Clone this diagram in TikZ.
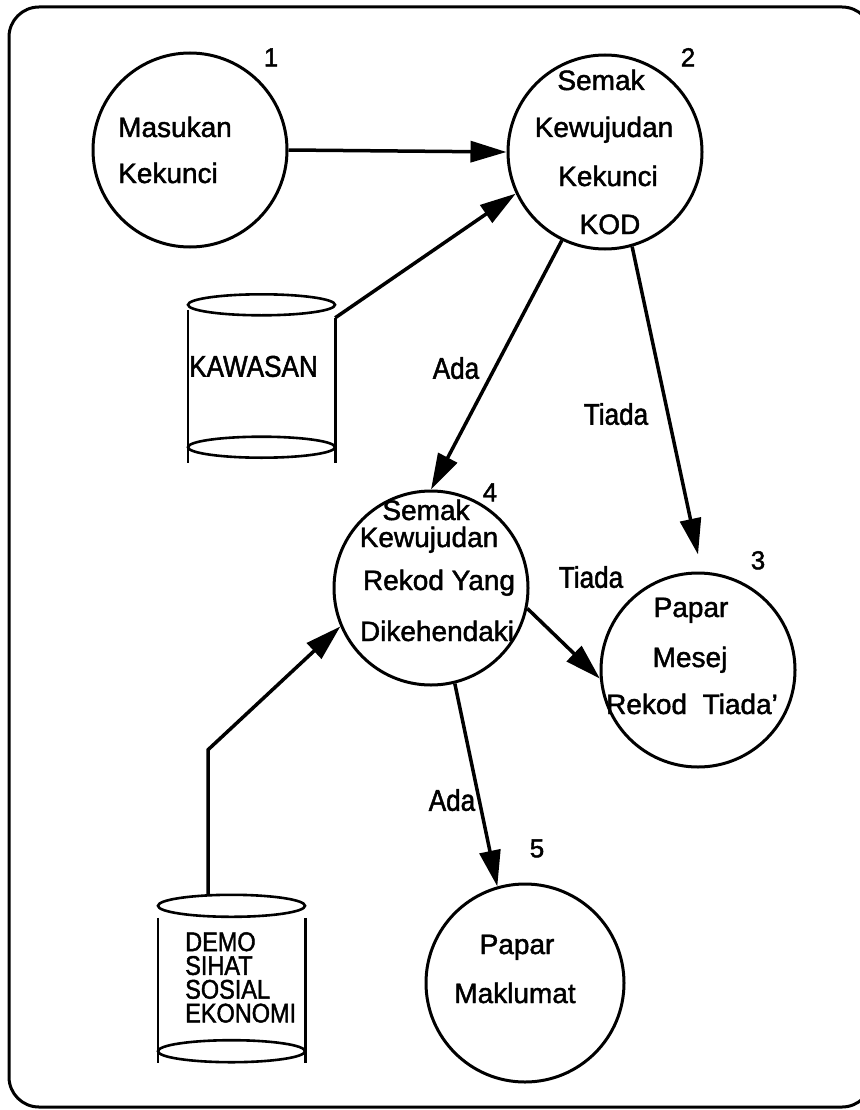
\documentclass[tikz,border=0pt]{standalone}
\usepackage{fontspec}
\setmainfont[FakeBold=1.6]{Liberation Sans}
\newfontfamily\narrowsans[FakeStretch=0.87,FakeBold=1.6]{Liberation Sans}
\usetikzlibrary{arrows.meta}
\begin{document}
\begin{tikzpicture}[x=1pt,y=-1pt,
  proc/.style={circle, draw, line width=3pt, minimum size=194pt, inner sep=0pt},
  flow/.style={line width=3.5pt, -{Triangle[length=36pt,width=21pt]}},
  txt/.style={font=\fontsize{28}{31}\selectfont, inner sep=0pt, text height=20pt, text depth=0pt},
  num/.style={font=\fontsize{26}{28}\selectfont, inner sep=0pt, text height=18.6pt, text depth=0pt},
  flowlbl/.style={font=\narrowsans\fontsize{30}{32}\selectfont, inner sep=0pt, text height=21.5pt, text depth=0pt},
  storebody/.style={inner sep=0pt, minimum width=147pt},
  storeline/.style={line width=2.6pt},
]
\useasboundingbox (0,0) rectangle (859,1110);

% outer frame
\draw[line width=3pt, rounded corners=30pt] (9,7) rectangle (872,1107);

% processes
\node[proc] (p1) at (190,150) {};
\node[proc] (p2) at (605,152) {};
\node[proc] (p4) at (431,588) {};
\node[proc] (p3) at (698,670) {};
\node[proc, minimum size=198pt] (p5) at (525,983) {};

% process numbers
\node[num] (n1) at (271,57) {1};
\node[num] (n2) at (688,57) {2};
\node[num] (n4) at (490,492) {4};
\node[num] (n3) at (758,560) {3};
\node[num] (n5) at (537,848) {5};

% process texts
\node[txt, anchor=west] (t1a) at (118,127) {Masukan};
\node[txt, anchor=west] (t1b) at (118,173) {Kekunci};

\node[txt] (t2a) at (601,80) {Semak};
\node[txt] (t2b) at (604,127) {Kewujudan};
\node[txt] (t2c) at (608,176) {Kekunci};
\node[txt] (t2d) at (610,224) {KOD};

\node[txt] (t4a) at (426,510) {Semak};
\node[txt] (t4b) at (429,537) {Kewujudan};
\node[txt] (t4c) at (439,580) {Rekod Yang};
\node[txt] (t4d) at (437,631) {Dikehendaki};

\node[txt] (t3a) at (691,607) {Papar};
\node[txt] (t3b) at (690,657) {Mesej};
\node[txt] (t3c) at (692,704) {Rekod\ \ Tiada'};

\node[txt] (t5a) at (517,944) {Papar};
\node[txt] (t5b) at (515,993) {Maklumat};

% data store KAWASAN
\node[storebody, minimum height=153pt] (kaw) at (261.5,386.5) {};
\draw[storeline] (kaw.north west) -- (kaw.south west);
\draw[storeline] ([yshift=-8pt]kaw.north east) -- (kaw.south east);
\draw[storeline] ([yshift=5pt]kaw.north) ellipse [x radius=73.5pt, y radius=10.5pt];
\draw[storeline] ([yshift=16pt]kaw.south) ellipse [x radius=73.5pt, y radius=10.5pt];
\node[flowlbl, anchor=west] (kawlbl) at (189,366) {KAWASAN};

% data store DEMO / SIHAT / SOSIAL / EKONOMI
\node[storebody, minimum height=145pt] (demo) at (231.5,990.5) {};
\draw[storeline] (demo.north west) -- (demo.south west);
\draw[storeline] (demo.north east) -- (demo.south east);
\draw[storeline] ([yshift=12pt]demo.north) ellipse [x radius=73.5pt, y radius=11pt];
\draw[storeline] ([yshift=12pt]demo.south) ellipse [x radius=73.5pt, y radius=11pt];
\node[anchor=north west, inner sep=0pt, align=left,
      font=\narrowsans\fontsize{27}{23.8}\selectfont] (demolbl) at (185,932)
  {DEMO\\SIHAT\\SOSIAL\\EKONOMI};

% flows
\draw[flow] (p1.east) -- (p2.180);
\draw[flow] ([yshift=-8pt]kaw.north east) -- (p2.205);
\draw[flow] (p2.244) -- (p4.90);
\draw[flow] (p2.286) -- ([yshift=17pt]p3.north);
\draw[flow] (p4.348) -- (p3.185);
\draw[flow] (p4.284) -- (p5.106);
\draw[flow] ([xshift=-23.5pt,yshift=23pt]demo.north) -- ++(0,-145) -- (p4.203);

% flow labels
\node[flowlbl] (lada1) at (456,368) {Ada};
\node[flowlbl] (ltiada1) at (616,414) {Tiada};
\node[flowlbl] (ltiada2) at (591,577) {Tiada};
\node[flowlbl] (lada2) at (452,800) {Ada};
\end{tikzpicture}
\end{document}
